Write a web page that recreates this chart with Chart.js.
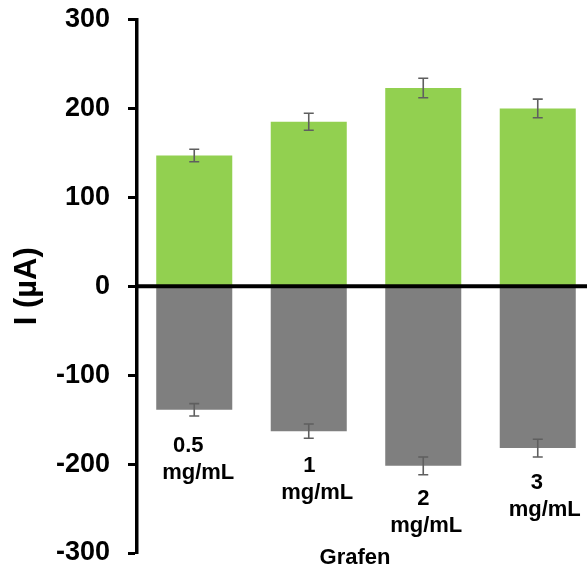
<!DOCTYPE html>
<html>
<head>
<meta charset="utf-8">
<script src="https://cdn.jsdelivr.net/npm/chart.js@4/dist/chart.umd.min.js"></script>
<style>
  html, body { margin: 0; padding: 0; background: #fff; overflow: hidden; width: 587px; height: 577px; }
  canvas { display: block; }
</style>
</head>
<body>
<canvas id="c" width="600" height="577"></canvas>
<script>
// ---- data ----
const categories = [["0.5", "mg/mL"], ["1", "mg/mL"], ["2", "mg/mL"], ["3", "mg/mL"]];
const oxidationValues = [147, 185, 223, 200];
const oxidationErrors = [7, 9.5, 11, 10.5];
const reductionValues = [-139, -163, -202, -182];
const reductionErrors = [7, 8, 10, 10];
const yTicks = [-300, -200, -100, 0, 100, 200, 300];
const yTitle = "I (µA)";
const xTitle = "Grafen";

// ---- label layout (pixel offsets, not data) ----
const labelLayout = [
  { dx1: -6, dx2: 4, dy: 160 },
  { dx1: 0.5, dx2: 8.5, dy: 180 },
  { dx1: 0, dx2: 3, dy: 213 },
  { dx1: -1, dx2: 7, dy: 197 }
];
const FONT = "'Liberation Sans', Arial, sans-serif";

const overlayPlugin = {
  id: 'overlay',
  afterDatasetsDraw(chart) {
    const ctx = chart.ctx;
    const xs = chart.scales.x, ys = chart.scales.y;
    const area = chart.chartArea;
    ctx.save();
    // error bars
    chart.data.datasets.forEach((ds, di) => {
      const meta = chart.getDatasetMeta(di);
      ds.errors.forEach((e, i) => {
        const x = meta.data[i].x;
        const v = ds.data[i];
        const yTop = ys.getPixelForValue(v + e);
        const yBot = ys.getPixelForValue(v - e);
        ctx.strokeStyle = '#5f5f5f';
        ctx.lineWidth = 1.6;
        ctx.beginPath();
        ctx.moveTo(x, yTop); ctx.lineTo(x, yBot);
        ctx.moveTo(x - 5, yTop); ctx.lineTo(x + 5, yTop);
        ctx.moveTo(x - 5, yBot); ctx.lineTo(x + 5, yBot);
        ctx.stroke();
      });
    });
    // zero line
    const y0 = ys.getPixelForValue(0);
    ctx.strokeStyle = '#000';
    ctx.lineWidth = 4;
    ctx.beginPath();
    ctx.moveTo(area.left, y0);
    ctx.lineTo(chart.width, y0);
    ctx.stroke();
    // category labels
    ctx.fillStyle = '#000';
    ctx.font = "bold 22px " + FONT;
    ctx.textAlign = 'center';
    ctx.textBaseline = 'middle';
    categories.forEach((lines, i) => {
      const cx = xs.getPixelForValue(i);
      const L = labelLayout[i];
      ctx.fillText(lines[0], cx + L.dx1, y0 + L.dy);
      ctx.fillText(lines[1], cx + L.dx2, y0 + L.dy + 27);
    });
    // x title
    ctx.fillText(xTitle, 355, 558);
    ctx.restore();
  }
};

new Chart(document.getElementById('c'), {
  type: 'bar',
  data: {
    labels: categories.map(c => c.join(' ')),
    datasets: [
      { data: oxidationValues, errors: oxidationErrors, backgroundColor: '#92D050',
        categoryPercentage: 1, barPercentage: 0.664 },
      { data: reductionValues, errors: reductionErrors, backgroundColor: '#7F7F7F',
        categoryPercentage: 1, barPercentage: 0.664 }
    ]
  },
  options: {
    responsive: false,
    animation: false,
    devicePixelRatio: 1,
    layout: { padding: { left: 0, top: 19.5, right: 5, bottom: 24 } },
    plugins: { legend: { display: false }, tooltip: { enabled: false } },
    scales: {
      x: { display: false, stacked: true },
      y: {
        min: -300, max: 300,
        afterFit(scale) { scale.width = 137; scale.paddingTop = 0; scale.paddingBottom = 0; },
        afterBuildTicks(scale) { scale.ticks = yTicks.map(v => ({ value: v })); },
        border: { display: true, color: '#000', width: 3.5 },
        grid: { display: true, drawOnChartArea: false, drawTicks: true, tickLength: 9, tickWidth: 3, tickColor: '#000' },
        ticks: { color: '#000', padding: 18, font: { family: FONT, size: 27, weight: 'bold' } },
        title: { display: true, text: yTitle, color: '#000', padding: { top: 8.4, bottom: 0 },
                 font: { family: FONT, size: 31, weight: 'bold' } }
      }
    }
  },
  plugins: [overlayPlugin]
});
</script>
</body>
</html>
